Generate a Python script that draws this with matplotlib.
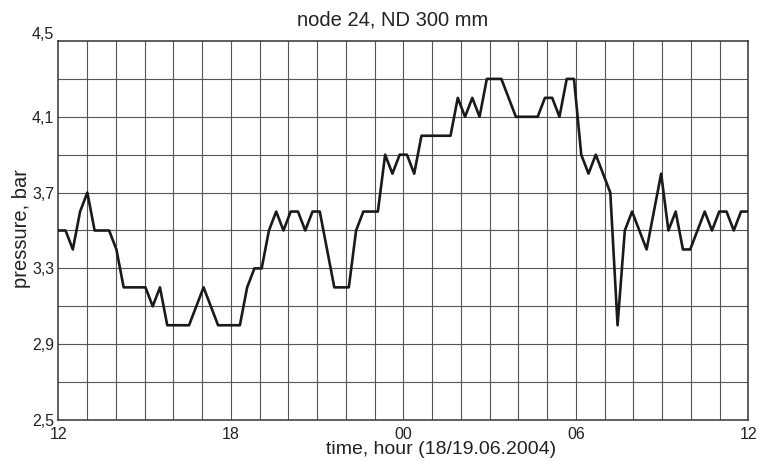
import numpy as np
import matplotlib
matplotlib.use("Agg")
import matplotlib.pyplot as plt
import matplotlib.transforms as mtransforms

# pressure readings, 15 min steps from 12:00 (18.06) to 12:00 (19.06)
pressure = [3.5, 3.5, 3.4, 3.6, 3.7, 3.5, 3.5, 3.5, 3.4, 3.2,
            3.2, 3.2, 3.2, 3.1, 3.2, 3.0, 3.0, 3.0, 3.0, 3.1,
            3.2, 3.1, 3.0, 3.0, 3.0, 3.0, 3.2, 3.3, 3.3, 3.5,
            3.6, 3.5, 3.6, 3.6, 3.5, 3.6, 3.6, 3.4, 3.2, 3.2,
            3.2, 3.5, 3.6, 3.6, 3.6, 3.9, 3.8, 3.9, 3.9, 3.8,
            4.0, 4.0, 4.0, 4.0, 4.0, 4.2, 4.1, 4.2, 4.1, 4.3,
            4.3, 4.3, 4.2, 4.1, 4.1, 4.1, 4.1, 4.2, 4.2, 4.1,
            4.3, 4.3, 3.9, 3.8, 3.9, 3.8, 3.7, 3.0, 3.5, 3.6,
            3.5, 3.4, 3.6, 3.8, 3.5, 3.6, 3.4, 3.4, 3.5, 3.6,
            3.5, 3.6, 3.6, 3.5, 3.6, 3.6]
time_h = np.linspace(12, 36, len(pressure))

xtick_pos = [12, 18, 24, 30, 36]
xtick_labels = ["12", "18", "00", "06", "12"]
ytick_pos = [2.5, 2.9, 3.3, 3.7, 4.1, 4.5]
ytick_labels = ["2,5", "2,9", "3,3", "3,7", "4,1", "4,5"]

plt.rcParams['font.family'] = ['Liberation Sans', 'DejaVu Sans']

fig = plt.figure(figsize=(7.62, 4.61), dpi=100)
ax = fig.add_axes([58.3 / 762, 1 - 420 / 461, 690 / 762, 379 / 461])

# hourly grid and 0.2 bar grid
for h in range(13, 36):
    ax.axvline(h, color="#555555", lw=0.8, zorder=1)
for p in np.arange(2.7, 4.45, 0.2):
    ax.axhline(p, color="#555555", lw=0.8, zorder=1)

ax.plot(time_h, pressure, color="#1a1a1a", lw=1.9, zorder=3)

ax.set_xlim(12, 36)
ax.set_ylim(2.5, 4.5)
ax.set_xticks(xtick_pos)
ax.set_xticklabels(xtick_labels)
ax.set_yticks(ytick_pos)
ax.set_yticklabels(ytick_labels)
ax.tick_params(length=0, labelsize=11.5, colors="#222222")
ax.tick_params(axis="x", pad=5)
ax.tick_params(axis="y", pad=3)
# top label sits a little higher, as in the original
top_lbl = ax.get_yticklabels()[-1]
top_lbl.set_transform(top_lbl.get_transform() +
                      mtransforms.ScaledTranslation(0, 0.08, fig.dpi_scale_trans))
for s in ax.spines.values():
    s.set_color("#333333")
    s.set_linewidth(1.1)

fig.text(393 / 762, 1 - 20 / 461, "node 24, ND 300 mm", ha="center", va="center",
         fontsize=14.5, color="#222222")
fig.text(441 / 762, 1 - 449 / 461, "time, hour (18/19.06.2004)", ha="center", va="center",
         fontsize=14, color="#222222")
fig.text(22 / 762, 1 - 228 / 461, "pressure, bar", ha="center", va="center",
         rotation=90, fontsize=14.5, color="#222222")

fig.savefig("out.png", dpi=100)
